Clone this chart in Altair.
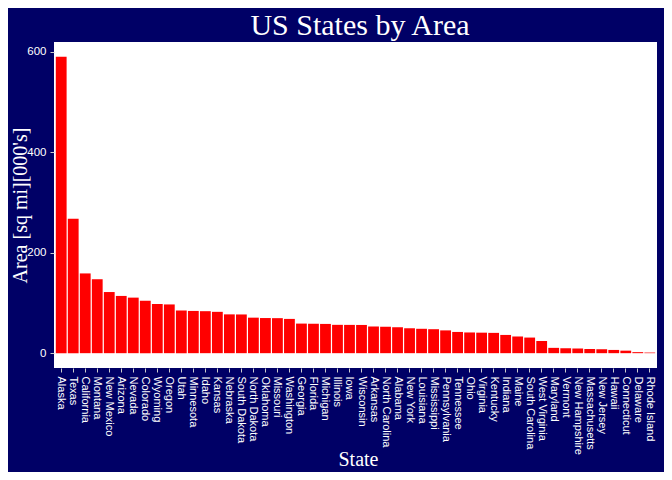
import altair as alt
import pandas as pd

chart_title = "US States by Area"
states = [
    "Alaska", "Texas", "California", "Montana", "New Mexico", "Arizona", "Nevada",
    "Colorado", "Wyoming", "Oregon", "Utah", "Minnesota", "Idaho", "Kansas",
    "Nebraska", "South Dakota", "North Dakota", "Oklahoma", "Missouri", "Washington",
    "Georgia", "Florida", "Michigan", "Illinois", "Iowa", "Wisconsin", "Arkansas",
    "North Carolina", "Alabama", "New York", "Louisiana", "Mississippi", "Pennsylvania",
    "Tennessee", "Ohio", "Virginia", "Kentucky", "Indiana", "Maine", "South Carolina",
    "West Virginia", "Maryland", "Vermont", "New Hampshire", "Massachusetts",
    "New Jersey", "Hawaii", "Connecticut", "Delaware", "Rhode Island",
]
area_thousands = [
    589.757, 267.339, 158.693, 147.138, 121.666, 113.909, 110.540,
    104.247, 97.914, 96.981, 84.916, 84.068, 83.557, 82.264,
    77.227, 77.047, 70.665, 69.919, 69.686, 68.192,
    58.876, 58.560, 58.216, 56.400, 56.290, 56.154, 53.104,
    52.586, 51.609, 49.576, 48.523, 47.716, 45.333,
    42.244, 41.222, 40.815, 40.395, 36.291, 33.215, 31.055,
    24.181, 10.577, 9.609, 9.304, 8.257,
    7.836, 6.450, 5.009, 2.057, 1.214,
]
y_ticks = [0, 200, 400, 600]
y_domain = [-29.5, 619.2]

df = pd.DataFrame({"State": states, "Area": area_thousands})
title_df = pd.DataFrame({"t": [chart_title]})

NAVY = "#000066"
SANS = "Liberation Sans"
SERIF = "Liberation Serif"

bars = alt.Chart(df).mark_bar(color="#FF0000").encode(
    x=alt.X(
        "State:N",
        sort=states,
        scale=alt.Scale(paddingInner=0.1, paddingOuter=0.15),
        axis=alt.Axis(
            title="State",
            labelAngle=90,
            labelAlign="left",
            labelBaseline="middle",
            labelPadding=4,
            labelOverlap=False,
            labelFont=SANS,
            labelFontSize=11,
            labelColor="white",
            tickSize=4,
            tickColor="#cccccc",
            domain=False,
            grid=False,
            titleFont=SERIF,
            titleFontSize=20,
            titleFontWeight="normal",
            titleColor="white",
            titleBaseline="alphabetic",
            titleX=304,
            titleY=97,
        ),
    ),
    y=alt.Y(
        "Area:Q",
        scale=alt.Scale(domain=y_domain, nice=False, zero=False),
        axis=alt.Axis(
            title="Area [sq mi][000's]",
            values=y_ticks,
            labelFont=SANS,
            labelFontSize=11.5,
            labelColor="white",
            labelPadding=4,
            tickSize=4,
            tickColor="#cccccc",
            domain=False,
            grid=False,
            titleFont=SERIF,
            titleFontSize=20,
            titleFontWeight="normal",
            titleColor="white",
            titleBaseline="alphabetic",
            titleAngle=270,
            titleX=-28,
            titleY=163,
        ),
    ),
    y2=alt.datum(0),
)

title_mark = alt.Chart(title_df).mark_text(
    font=SERIF,
    fontSize=30,
    color="white",
    align="center",
    baseline="alphabetic",
).encode(
    x=alt.value(306),
    y=alt.value(-7),
    text="t:N",
)

chart = alt.layer(bars, title_mark).properties(
    width=603,
    height=326,
    background=NAVY,
    autosize=alt.AutoSizeParams(type="none"),
    padding={"left": 46, "top": 34, "right": 7, "bottom": 104},
).configure_view(fill="white", strokeWidth=0)

chart.save("out.html", embed_options={"renderer": "svg", "actions": False})
